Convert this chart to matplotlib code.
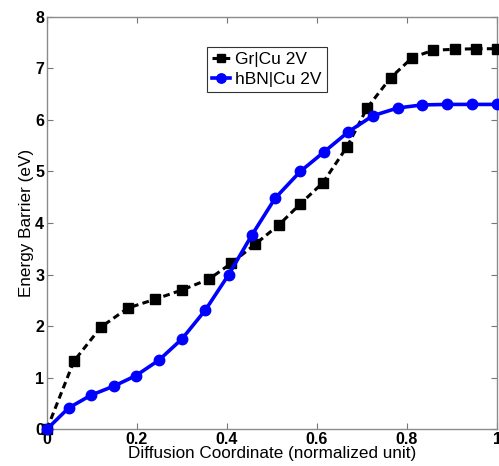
import matplotlib
matplotlib.use("Agg")
import matplotlib.pyplot as plt
from matplotlib.ticker import FuncFormatter

plt.rcParams["font.family"] = ["Liberation Sans", "DejaVu Sans"]

# Gr|Cu 2V (black dashed, squares)
gr_x = [0, 0.06, 0.12, 0.18, 0.24, 0.30, 0.36, 0.41, 0.463, 0.515,
        0.563, 0.613, 0.667, 0.712, 0.764, 0.812, 0.858, 0.906, 0.954, 1.0]
gr_y = [0, 1.32, 1.98, 2.35, 2.52, 2.70, 2.91, 3.22, 3.59, 3.96,
        4.37, 4.78, 5.48, 6.24, 6.82, 7.21, 7.35, 7.37, 7.38, 7.38]
# hBN|Cu 2V (blue solid, circles)
bn_x = [0, 0.048, 0.098, 0.150, 0.198, 0.249, 0.30, 0.352, 0.404, 0.455,
        0.507, 0.563, 0.616, 0.670, 0.724, 0.779, 0.833, 0.889, 0.944, 1.0]
bn_y = [0, 0.41, 0.66, 0.84, 1.04, 1.34, 1.75, 2.31, 3.00, 3.76,
        4.48, 5.00, 5.38, 5.77, 6.08, 6.23, 6.29, 6.30, 6.30, 6.30]

xticks = [0, 0.2, 0.4, 0.6, 0.8, 1.0]
yticks = list(range(0, 9))

fig = plt.figure(figsize=(4.99, 4.66), dpi=100)
ax = fig.add_axes([0.094, 0.079, 0.902, 0.885])

ax.plot(gr_x, gr_y, "k--s", lw=2.2, ms=7, dashes=(2.2, 1.4), label="Gr|Cu 2V",
        clip_on=False, zorder=3)
ax.plot(bn_x, bn_y, "-o", color="#0000ff", lw=2.6, ms=7.5, label="hBN|Cu 2V",
        clip_on=False, zorder=4)

ax.set_xlim(0, 1); ax.set_ylim(0, 8)
ax.set_xticks(xticks); ax.set_yticks(yticks)
ax.xaxis.set_major_formatter(FuncFormatter(lambda v, p: f"{v:g}"))
ax.tick_params(direction="in", top=True, right=True, length=4, width=0.8,
               color="#777777", labelsize=11.5, pad=2)
for lab in ax.get_xticklabels() + ax.get_yticklabels():
    lab.set_fontweight("bold")
for s in ax.spines.values():
    s.set_color("#8a8a8a"); s.set_linewidth(1.0)
ax.set_xlabel("Diffusion Coordinate (normalized unit)", fontsize=12.3, labelpad=-1)
ax.set_ylabel("Energy Barrier (eV)", fontsize=12.3, labelpad=1)

leg = ax.legend(loc="upper left", bbox_to_anchor=(0.356, 0.927), fontsize=12.5,
                fancybox=False, framealpha=1, edgecolor="#333333", handlelength=1.0,
                handletextpad=0.3, borderpad=0.3, labelspacing=0.25,
                borderaxespad=0, markerscale=0.9)
leg.get_frame().set_linewidth(0.8)

fig.savefig("out.png")
